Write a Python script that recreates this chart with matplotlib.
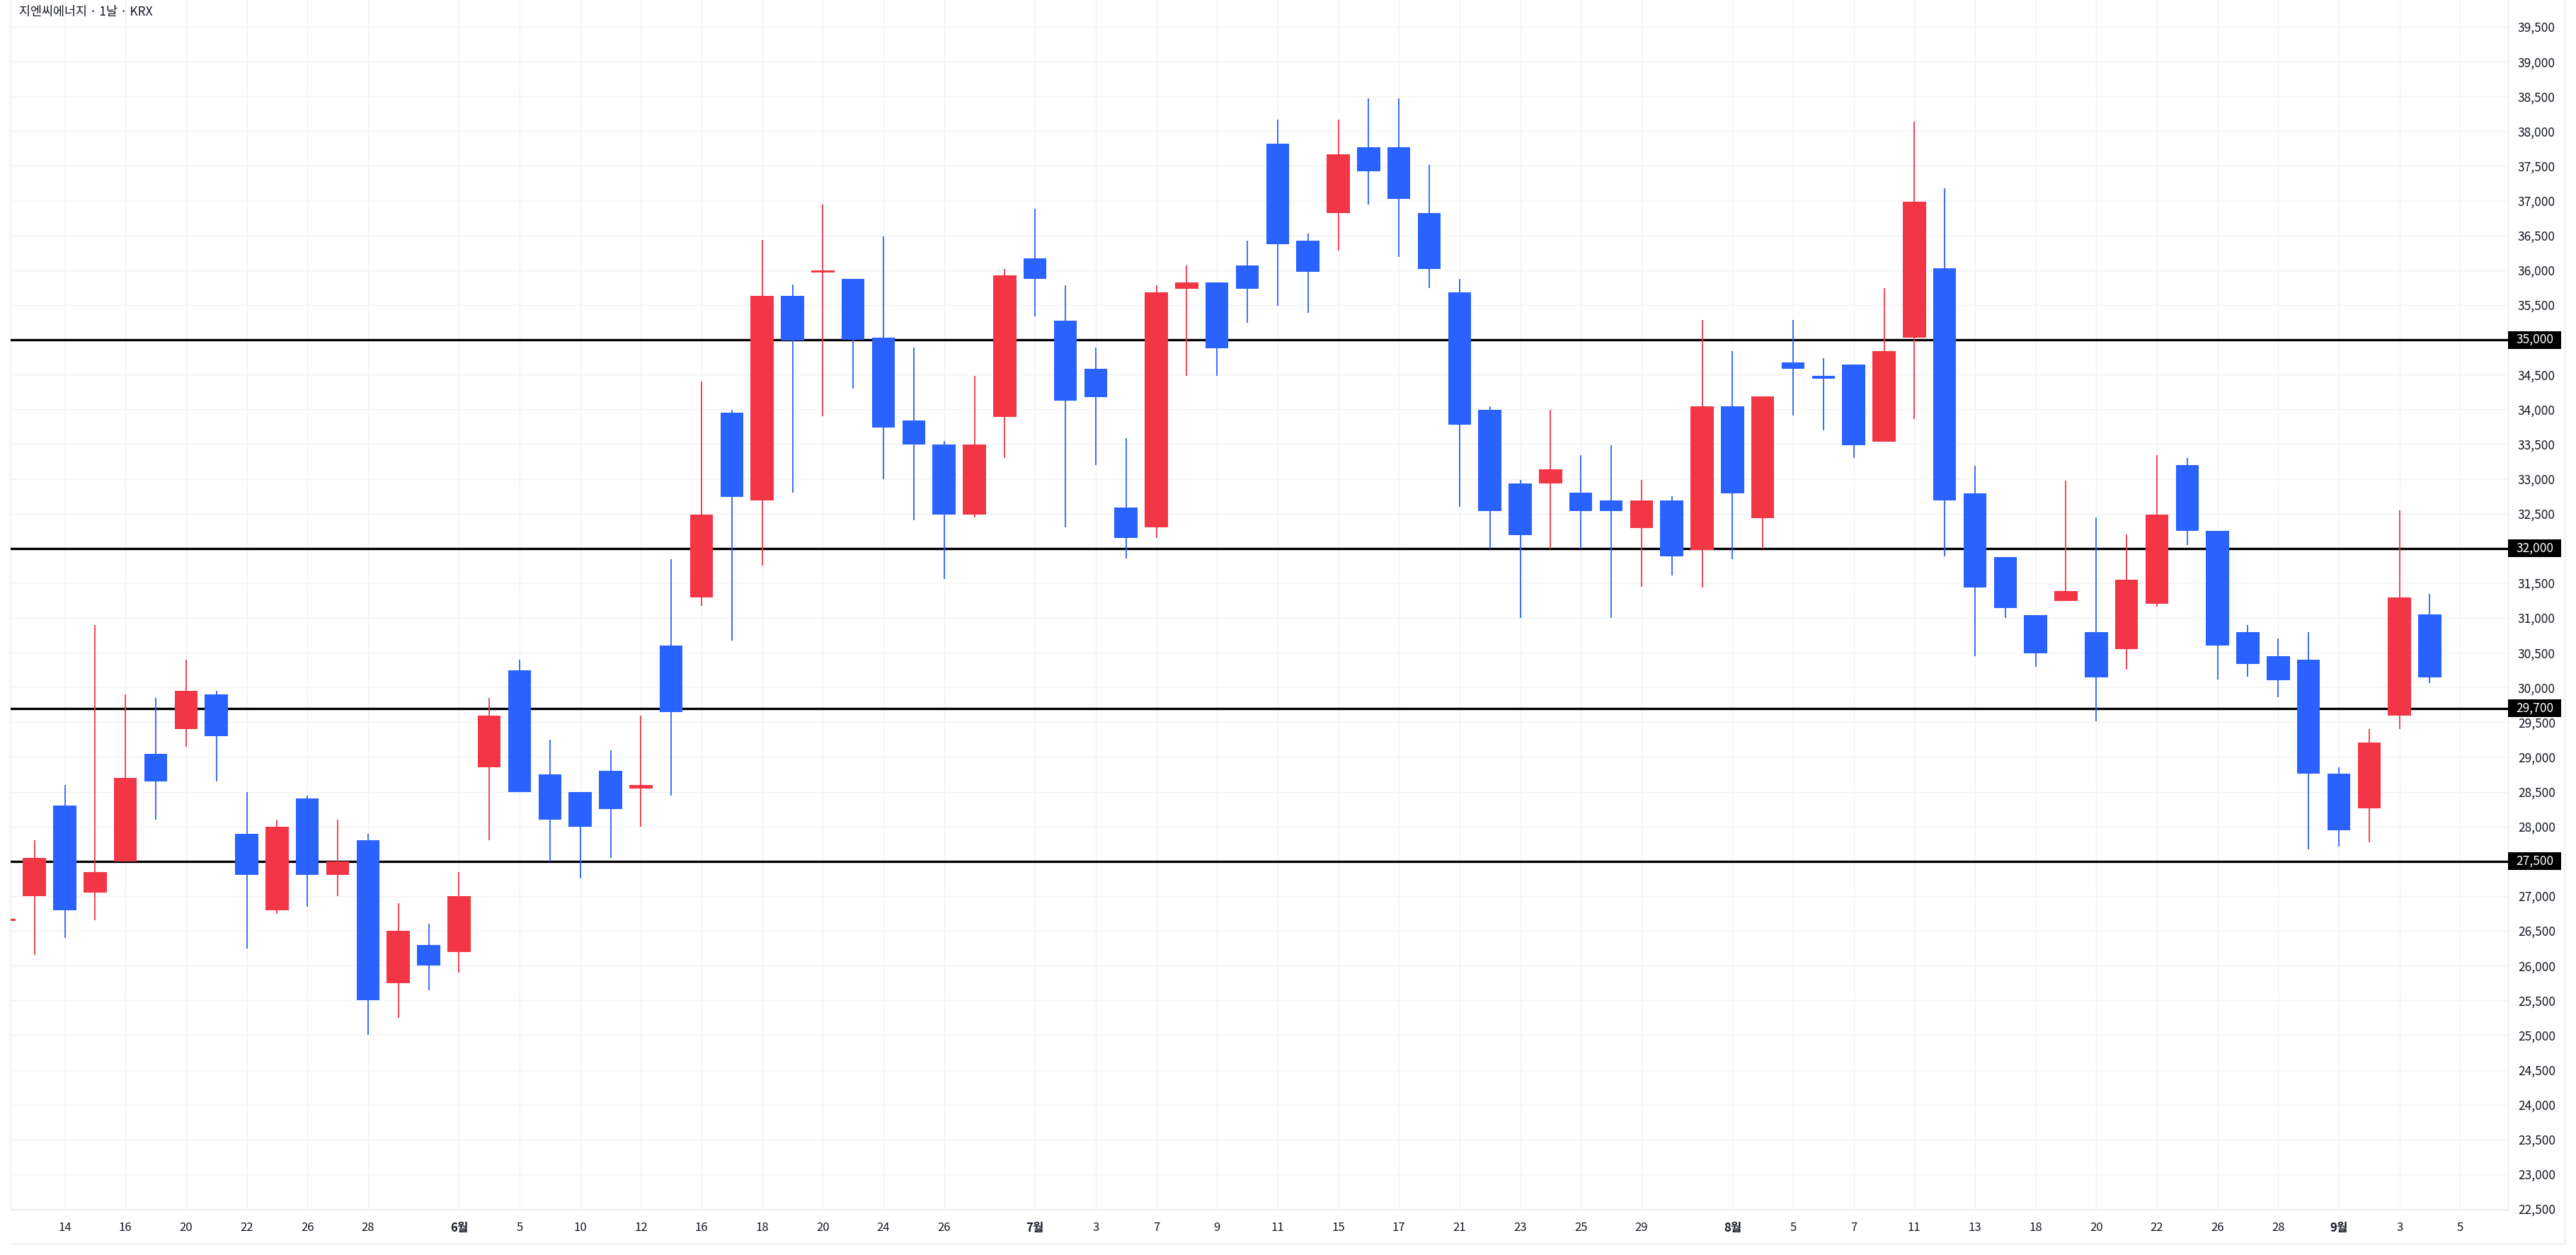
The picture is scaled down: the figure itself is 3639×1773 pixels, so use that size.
import numpy as np
import matplotlib
matplotlib.use('Agg')
import matplotlib.pyplot as plt
from matplotlib.patches import Rectangle
from matplotlib.lines import Line2D
from matplotlib.transforms import blended_transform_factory

plt.rcParams['font.family'] = ['Noto Sans CJK KR', 'DejaVu Sans']

# daily OHLC, candle 0 is cut by the left edge
opens = [26640, 27000, 28300, 27050, 27500, 29050, 29400, 29900, 27900, 26800,
         28400, 27300, 27800, 25750, 26300, 26200, 28850, 30250, 28750, 28500,
         28800, 28550, 30600, 31300, 33950, 32690, 35630, 35970, 35880, 35030,
         33840, 33490, 32490, 33890, 36170, 35280, 34580, 32590, 32300, 35730,
         35830, 36070, 37820, 36430, 36820, 37770, 37770, 36820, 35680, 33990,
         32930, 32930, 32800, 32690, 32290, 32690, 31980, 34040, 32440, 34680,
         34480, 34640, 33530, 35030, 36030, 32790, 31880, 31040, 31240, 30800,
         30550, 31200, 33200, 32250, 30800, 30450, 30400, 28760, 28260, 29600,
         31050]
closes = [26670, 27550, 26800, 27350, 28700, 28650, 29950, 29300, 27300, 28000,
          27300, 27500, 25500, 26500, 26000, 27000, 29600, 28500, 28100, 28000,
          28250, 28600, 29650, 32490, 32740, 35630, 34990, 36000, 35000, 33740,
          33490, 32490, 33490, 35930, 35880, 34130, 34180, 32150, 35680, 35830,
          34880, 35730, 36370, 35980, 37670, 37420, 37030, 36020, 33780, 32540,
          32190, 33140, 32540, 32540, 32690, 31890, 34040, 32790, 34190, 34580,
          34440, 33480, 34840, 36990, 32690, 31440, 31140, 30490, 31390, 30150,
          31550, 32490, 32250, 30600, 30340, 30100, 28760, 27950, 29210, 31300,
          30150]
highs = [26700, 27800, 28600, 30900, 29900, 29850, 30400, 29950, 28500, 28100,
         28450, 28100, 27900, 26900, 26600, 27350, 29850, 30400, 29250, 28500,
         29100, 29600, 31850, 34400, 33990, 36440, 35790, 36940, 35880, 36490,
         34890, 33540, 34480, 36020, 36880, 35780, 34890, 33590, 35780, 36070,
         35830, 36430, 38170, 36530, 38170, 38470, 38470, 37520, 35880, 34040,
         32990, 33990, 33340, 33480, 32990, 32750, 35290, 34840, 34190, 35290,
         34740, 34640, 35740, 38140, 37180, 33190, 31880, 31040, 32980, 32450,
         32200, 33340, 33300, 32250, 30900, 30700, 30800, 28850, 29400, 32550,
         31350]
lows = [26620, 26150, 26400, 26650, 27500, 28100, 29150, 28650, 26250, 26750,
        26850, 27000, 25000, 25250, 25650, 25900, 27800, 28500, 27500, 27250,
        27550, 28000, 28450, 31170, 30670, 31750, 32800, 33900, 34300, 33000,
        32410, 31560, 32450, 33300, 35340, 32300, 33200, 31860, 32150, 34480,
        34480, 35240, 35490, 35390, 36280, 36940, 36190, 35740, 32600, 32000,
        31000, 32000, 32000, 31000, 31450, 31610, 31440, 31850, 32000, 33910,
        33700, 33300, 33530, 33860, 31890, 30450, 31000, 30300, 31240, 29510,
        30260, 31160, 32050, 30110, 30160, 29860, 27670, 27710, 27770, 29400,
        30060]

tick_pos = [2, 4, 6, 8, 10, 12, 15, 17, 19, 21, 23, 25, 27, 29, 31, 34, 36, 38,
            40, 42, 44, 46, 48, 50, 52, 54, 57, 59, 61, 63, 65, 67, 69, 71, 73,
            75, 77, 79, 81]
tick_labels = ['14', '16', '20', '22', '26', '28', '6월', '5', '10', '12', '16',
               '18', '20', '24', '26', '7월', '3', '7', '9', '11', '15', '17',
               '21', '23', '25', '29', '8월', '5', '7', '11', '13', '18', '20',
               '22', '26', '28', '9월', '3', '5']
levels = [35000, 32000, 29700, 27500]

W, H = 3639, 1773
fig = plt.figure(figsize=(W / 100, H / 100), dpi=100)
ax = fig.add_axes([15 / W, 64 / H, 3528 / W, 1709 / H])

o = np.array(opens)
c = np.array(closes)
days = np.arange(len(o))
colors = np.where(c >= o, '#f23645', '#2962ff')

ax.vlines(days, lows, highs, colors=colors, lw=1.3, zorder=4)
ax.bar(days, np.maximum(np.abs(c - o), 25), bottom=np.minimum(o, c),
       width=0.76, color=colors, linewidth=0, zorder=5)

for lv in levels:
    ax.axhline(lv, color='black', lw=2.4, zorder=3)

# price boxes on the right axis
trans = blended_transform_factory(fig.transFigure, ax.transData)
half = 12.5 * (39887 - 22490) / 1709
for lv in levels:
    ax.add_patch(Rectangle((3543 / W, lv - half), 75 / W, 2 * half, transform=trans,
                           facecolor='black', edgecolor='none', clip_on=False, zorder=10))
    ax.text(3581 / W, lv, f'{lv:,}', transform=trans, color='white', ha='center',
            va='center', fontsize=12.5, zorder=11, clip_on=False)

ax.set_xlim(0.213, 82.58)
ax.set_ylim(22490, 39887)

yt = np.arange(22500, 39501, 500)
ax.set_yticks(yt, [f'{v:,}' for v in yt])
ax.yaxis.tick_right()
ax.tick_params(axis='y', length=0, pad=10, labelsize=12.5, labelcolor='#131722')
ax.set_xticks(tick_pos, tick_labels)
ax.tick_params(axis='x', length=0, pad=12, labelsize=12, labelcolor='#131722')
for lbl in ax.get_xticklabels():
    if '월' in lbl.get_text():
        lbl.set_fontweight('bold')

ax.grid(True, color='#f2f3f7', lw=1)
ax.set_axisbelow(True)
ax.spines['top'].set_visible(False)
for s in ['left', 'right', 'bottom']:
    ax.spines[s].set_color('#e6e8ee')

fig.text(27 / W, 1 - 17 / H, '지엔씨에너지 · 1날 · KRX', fontsize=12.5, color='#131722',
         va='center', ha='left')

fig.add_artist(Line2D([15 / W, 3623 / W], [16 / H, 16 / H], color='#e6e8ee', lw=1,
                      transform=fig.transFigure))
fig.add_artist(Line2D([3623 / W, 3623 / W], [16 / H, 1], color='#e6e8ee', lw=1,
                      transform=fig.transFigure))

fig.savefig('out.png', dpi=100)
